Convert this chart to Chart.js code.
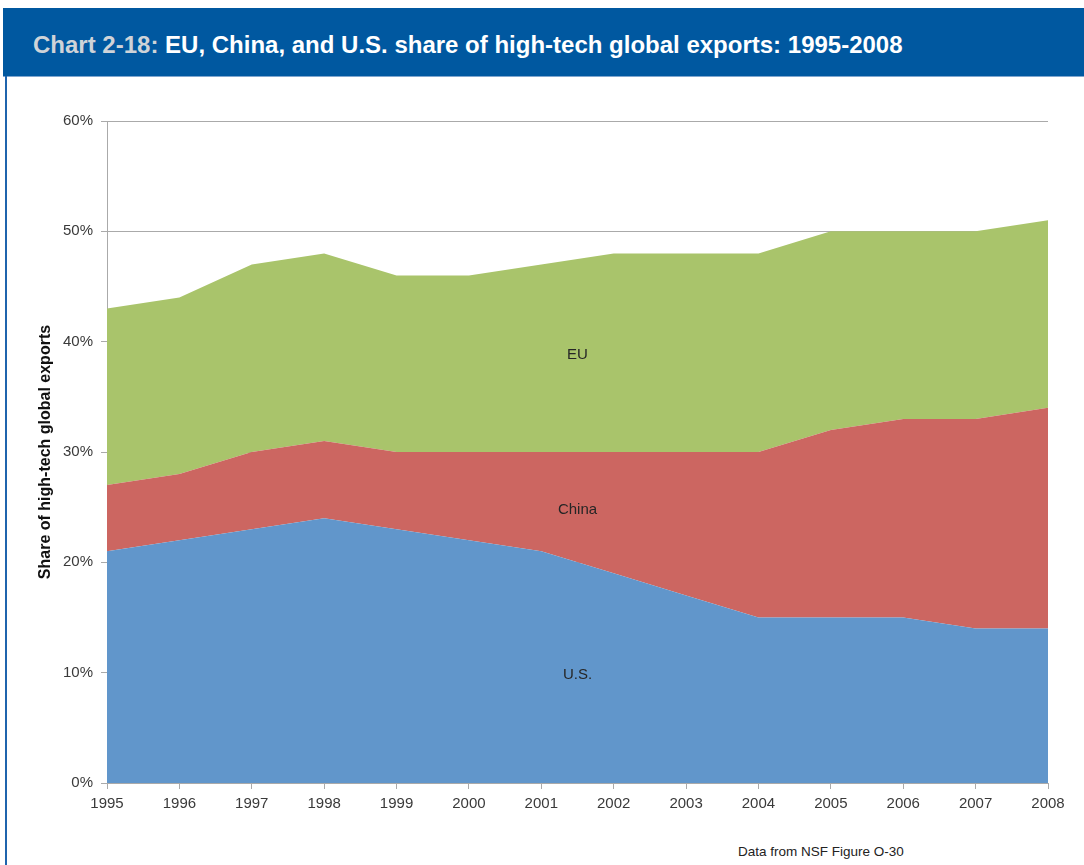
<!DOCTYPE html>
<html>
<head>
<meta charset="utf-8">
<script src="https://cdn.jsdelivr.net/npm/chart.js@4/dist/chart.umd.min.js"></script>
<style>
  body { margin: 0; background: #fff; font-family: "Liberation Sans", Arial, sans-serif; }
  #page { position: relative; width: 1084px; height: 865px; overflow: hidden; }
  #head { position: absolute; left: 3px; top: 8px; right: 0; height: 68px; background: #0058a0; border-bottom: 1px solid #7fa6cf; }
  #head h1 { margin: 0; position: absolute; left: 30px; top: 23px; font-size: 24px; font-weight: bold; color: #fff; letter-spacing: 0; }
  #head h1 span { color: #cfd3d8; }
  #frame { position: absolute; left: 5px; top: 76px; width: 2px; bottom: 0; background: #1f64ad; }
  #wrap { position: absolute; left: 0; top: 90px; width: 1084px; height: 740px; }
  #note { position: absolute; left: 738px; top: 844px; font-size: 13.5px; color: #222; }
</style>
</head>
<body>
<div id="page">
  <div id="head"><h1><span>Chart 2-18:</span> EU, China, and U.S. share of high-tech global exports: 1995-2008</h1></div>
  <div id="frame"></div>
  <div id="wrap"><canvas id="c"></canvas></div>
  <div id="note">Data from NSF Figure O-30</div>
</div>
<script>
const YEARS = ["1995", "1996", "1997", "1998", "1999", "2000", "2001", "2002", "2003", "2004", "2005", "2006", "2007", "2008"];
const US = [21, 22, 23, 24, 23, 22, 21, 19, 17, 15, 15, 15, 14, 14];
const CHINA = [6, 6, 7, 7, 7, 8, 9, 11, 13, 15, 17, 18, 19, 20];
const EU = [16, 16, 17, 17, 16, 16, 17, 18, 18, 18, 18, 17, 17, 17];
const Y_TICKS = [0, 10, 20, 30, 40, 50, 60];

// area labels: [text, x index (fractional), y value]
const AREA_LABELS = [
  ["EU", 6.5, 38.8],
  ["China", 6.5, 24.8],
  ["U.S.", 6.5, 9.8],
];

const GRID = "#aaaaaa";
const TICK = "#3a3a3a";

const areaLabels = {
  id: "areaLabels",
  afterDatasetsDraw(chart) {
    const { ctx, scales: { x, y } } = chart;
    ctx.save();
    ctx.font = "15px 'Liberation Sans', Arial, sans-serif";
    ctx.fillStyle = "#262626";
    ctx.textAlign = "center";
    ctx.textBaseline = "middle";
    const x0 = x.getPixelForValue(0), x1 = x.getPixelForValue(1);
    AREA_LABELS.forEach(([t, xi, v]) => {
      ctx.fillText(t, x0 + (x1 - x0) * xi, y.getPixelForValue(v));
    });
    ctx.restore();
  },
};

function area(label, data, color, fill) {
  return { label, data, backgroundColor: color, borderColor: color, borderWidth: 0, pointRadius: 0, fill, tension: 0 };
}

Chart.defaults.font.family = "'Liberation Sans', Arial, sans-serif";
Chart.defaults.font.size = 15;

new Chart(document.getElementById("c"), {
  type: "line",
  data: {
    labels: YEARS,
    datasets: [
      area("U.S.", US, "#6196cb", "origin"),
      area("China", CHINA, "#cc6661", "-1"),
      area("EU", EU, "#a9c46b", "-1"),
    ],
  },
  options: {
    responsive: true,
    maintainAspectRatio: false,
    animation: false,
    layout: { padding: { left: 36, right: 36, top: 31, bottom: 0 } },
    plugins: { legend: { display: false }, tooltip: { enabled: false } },
    scales: {
      x: {
        offset: false,
        grid: { drawOnChartArea: false, drawTicks: true, tickLength: 6, color: GRID },
        border: { color: GRID },
        ticks: { color: TICK, padding: 6, maxRotation: 0, autoSkip: false },
        afterFit: (s) => { s.height = 47; },
      },
      y: {
        stacked: true,
        min: 0,
        max: 60,
        afterBuildTicks: (s) => { s.ticks = Y_TICKS.map((v) => ({ value: v })); },
        grid: { color: GRID, tickLength: 6 },
        border: { color: GRID },
        ticks: { color: TICK, padding: 8, callback: (v) => v + "%" },
        title: { display: true, text: "Share of high-tech global exports", color: "#111", font: { size: 16, weight: "bold" }, padding: 0 },
        afterFit: (s) => { s.width = 71; },
      },
    },
  },
  plugins: [areaLabels],
});
</script>
</body>
</html>
